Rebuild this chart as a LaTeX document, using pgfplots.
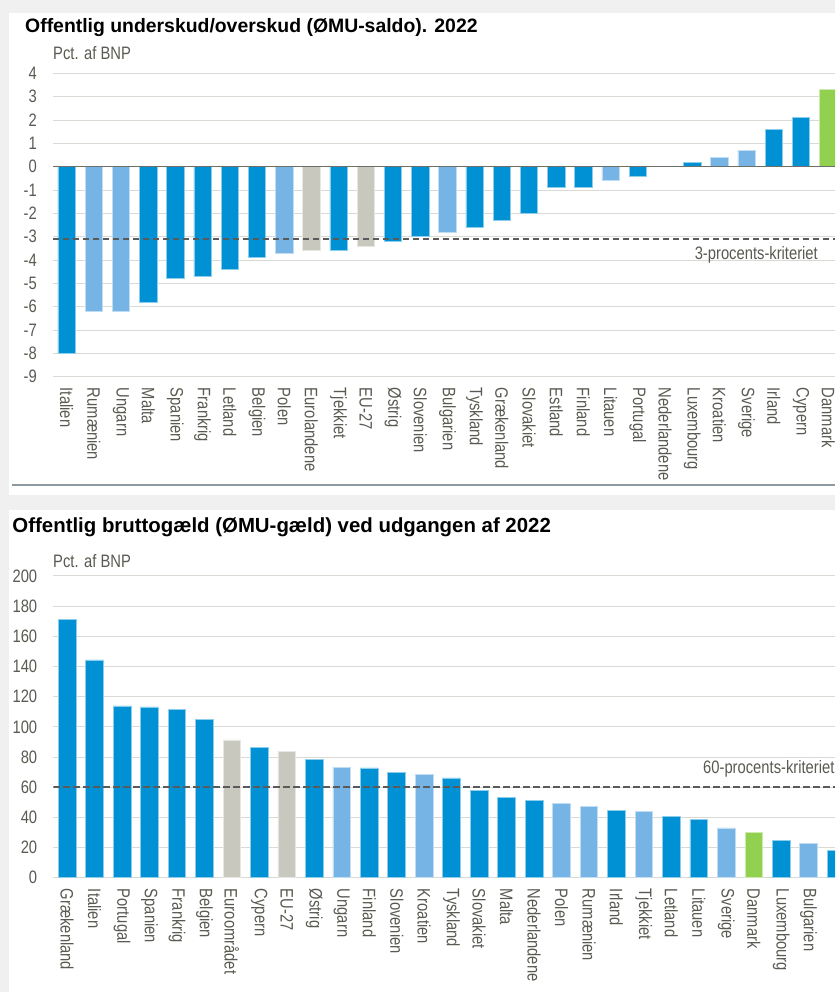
\documentclass[border=0pt]{standalone}
\usepackage{pgfplots}
\pgfplotsset{compat=1.18}
\usepackage{fontspec}
\setmainfont{Liberation Sans}
\newfontfamily\narrow[FakeStretch=0.82]{Liberation Sans}
\definecolor{bg}{RGB}{240,240,240}
\definecolor{cD}{RGB}{0,144,212}
\definecolor{cL}{RGB}{117,180,228}
\definecolor{cG}{RGB}{200,200,190}
\definecolor{cN}{RGB}{146,208,80}
\definecolor{txt}{RGB}{90,90,82}
\definecolor{gridc}{RGB}{218,218,212}
\definecolor{rulec}{RGB}{140,154,160}
\definecolor{dashc}{RGB}{90,90,90}
\definecolor{zeroc}{RGB}{110,110,104}
\newcommand\lab{\narrow\fontsize{18}{18}\selectfont}

\pgfplotsset{
  base/.style={
    scale only axis, enlargelimits=false,
    axis line style={draw=none}, major tick length=0pt,
    ymajorgrids, grid style={gridc, line width=1pt},
    tick label style={font=\lab, text=txt},
    /pgf/number format/assume math mode=true,
    yticklabel style={inner sep=0pt, anchor=east},
    yticklabel shift=16pt,
    xticklabel style={inner sep=0pt, rotate=-90, anchor=west},
    xticklabel shift=11pt,
    anchor=south west,
  },
  bars/.style={ybar, bar shift=0pt, fill=#1, draw=#1!45!white, line width=0.7pt},
}

\begin{document}
\begin{tikzpicture}
\fill[bg] (0pt,0pt) rectangle (835pt,992pt);
\fill[white] (9pt,497pt) rectangle (835pt,979pt);
\fill[white] (9pt,0pt) rectangle (835pt,482pt);
\fill[rulec] (12pt,506pt) rectangle (835pt,508pt);

\node[anchor=base west, inner sep=0pt, font=\bfseries\fontsize{19.4}{19.4}\selectfont] at (25pt,959.7pt) {Offentlig underskud/overskud (ØMU-saldo). 2022};
\node[anchor=base west, inner sep=0pt, text=txt, font=\lab] at (53pt,932.7pt) {Pct. af BNP};

\begin{axis}[base, at={(53pt,615.3pt)}, width=782pt, height=303.3pt,
  xmin=-0.5, xmax=28.25, ymin=-9, ymax=4, ytick={-9,...,4},
  xtick={0,...,28}, bar width=17.5pt,
  xticklabels={Italien,Rumænien,Ungarn,Malta,Spanien,Frankrig,Letland,Belgien,Polen,Eurolandene,Tjekkiet,EU-27,Østrig,Slovenien,Bulgarien,Tyskland,Grækenland,Slovakiet,Estland,Finland,Litauen,Portugal,Nederlandene,Luxembourg,Kroatien,Sverige,Irland,Cypern,Danmark},
]
\addplot[bars=cD] coordinates {
(0,-8.0) (3,-5.8) (4,-4.8) (5,-4.7) (6,-4.4) (7,-3.9) (10,-3.6) (12,-3.2) (13,-3.0)
(15,-2.6) (16,-2.3) (17,-2.0) (18,-0.9) (19,-0.9) (21,-0.4) (22,0.0) (23,0.2) (26,1.6) (27,2.1)};
\addplot[bars=cL] coordinates {
(1,-6.2) (2,-6.2) (8,-3.7) (14,-2.8) (20,-0.6) (24,0.4) (25,0.7)};
\addplot[bars=cG] coordinates {
(9,-3.6) (11,-3.4)};
\addplot[bars=cN] coordinates {
(28,3.3)};
\addplot[zeroc, line width=1pt] coordinates {(-0.5,0) (28.25,0)};
\addplot[dashc, line width=1.4pt, dash pattern=on 6pt off 4pt] coordinates {(-0.5,-3.1) (28.25,-3.1)};
\end{axis}
\node[anchor=base east, inner sep=0pt, text=txt, font=\lab] at (818pt,732.7pt) {3-procents-kriteriet};

\node[anchor=base west, inner sep=0pt, font=\bfseries\fontsize{20.4}{20.4}\selectfont] at (12.3pt,459.3pt) {Offentlig bruttogæld (ØMU-gæld) ved udgangen af 2022};
\node[anchor=base west, inner sep=0pt, text=txt, font=\lab] at (53pt,424pt) {Pct. af BNP};

\begin{axis}[base, at={(53.4pt,114.3pt)}, width=781.6pt, height=301.7pt,
  xmin=-0.5, xmax=27.96, ymin=0, ymax=200, ytick={0,20,...,200},
  xtick={0,...,28}, bar width=17.7pt,
  xticklabels={Grækenland,Italien,Portugal,Spanien,Frankrig,Belgien,Euroområdet,Cypern,EU-27,Østrig,Ungarn,Finland,Slovenien,Kroatien,Tyskland,Slovakiet,Malta,Nederlandene,Polen,Rumænien,Irland,Tjekkiet,Letland,Litauen,Sverige,Danmark,Luxembourg,Bulgarien,Estland},
]
\addplot[bars=cD] coordinates {
(0,171.3) (1,144.4) (2,113.9) (3,113.2) (4,111.6) (5,105.1) (7,86.5) (9,78.4) (11,72.8) (12,69.9)
(14,66.1) (15,57.8) (16,53.4) (17,51.0) (20,44.6) (22,40.8) (23,38.4) (26,24.6) (28,18.0)};
\addplot[bars=cL] coordinates {
(10,73.3) (13,68.4) (18,49.0) (19,47.2) (21,44.1) (24,33.0) (27,22.9)};
\addplot[bars=cG] coordinates {
(6,91.3) (8,83.7)};
\addplot[bars=cN] coordinates {
(25,29.8)};
\addplot[dashc, line width=1.5pt, dash pattern=on 6.5pt off 3.5pt] coordinates {(-0.5,60) (27.96,60)};
\end{axis}
\begin{scope}
\clip (0pt,0pt) rectangle (835pt,992pt);
\node[anchor=base west, inner sep=0pt, text=txt, font=\lab] at (703pt,218.7pt) {60-procents-kriteriet};
\end{scope}
\pgfresetboundingbox
\path[use as bounding box] (0pt,0pt) rectangle (835pt,992pt);
\end{tikzpicture}
\end{document}
